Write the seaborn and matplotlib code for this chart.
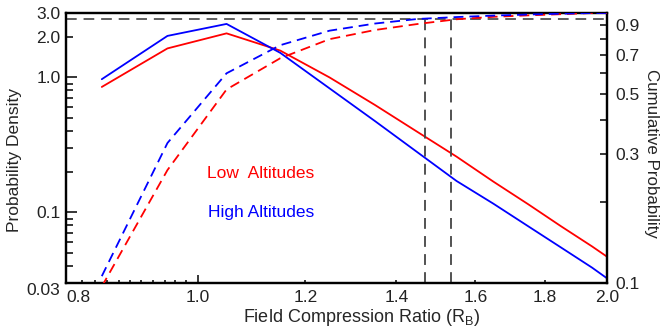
import matplotlib
matplotlib.use("Agg")
import matplotlib.pyplot as plt
import pandas as pd
import seaborn as sns
from matplotlib.ticker import FixedLocator, FixedFormatter, NullFormatter

# ---- data ----
ratio = [0.85, 0.95, 1.05, 1.15, 1.25, 1.35, 1.45, 1.55, 1.65, 1.75, 1.85, 1.95, 2.0]
low_pdf = [0.85, 1.64, 2.12, 1.58, 1.0, 0.625, 0.396, 0.259, 0.169, 0.115, 0.079, 0.056, 0.047]
high_pdf = [0.97, 2.03, 2.49, 1.52, 0.83, 0.475, 0.28, 0.171, 0.116, 0.079, 0.055, 0.039, 0.0325]
low_cdf = [0.097, 0.262, 0.521, 0.68, 0.80, 0.865, 0.91, 0.948, 0.968, 0.98, 0.99, 1.0, 1.0]
high_cdf = [0.106, 0.33, 0.598, 0.76, 0.86, 0.914, 0.95, 0.966, 0.978, 0.987, 0.994, 1.0, 1.0]

ref_cdf = 0.95
ref_ratio = [1.47, 1.535]

x_ticks = [0.8, 1.0, 1.2, 1.4, 1.6, 1.8, 2.0]
x_labels = ["0.8", "1.0", "1.2", "1.4", "1.6", "1.8", "2.0"]
x_minor = [0.822, 0.84, 0.857, 0.875, 0.891, 0.908, 0.927, 0.946, 0.962, 0.981]
left_ticks = [0.03, 0.1, 1.0, 2.0, 3.0]
left_labels = ["0.03", "0.1", "1.0", "2.0", "3.0"]
left_minor = [0.04, 0.05, 0.06, 0.07, 0.08, 0.09, 0.2, 0.3, 0.4, 0.5, 0.6, 0.7, 0.8, 0.9]
right_ticks = [0.1, 0.3, 0.5, 0.7, 0.9]
right_labels = ["0.1", "0.3", "0.5", "0.7", "0.9"]
right_minor = [0.2, 0.4, 0.6, 0.8]

df = pd.DataFrame({"ratio": ratio, "low_pdf": low_pdf, "high_pdf": high_pdf,
                   "low_cdf": low_cdf, "high_cdf": high_cdf})

sns.set_theme(style="ticks")
plt.rcParams["font.family"] = ["Liberation Sans", "DejaVu Sans"]
plt.rcParams["mathtext.fontset"] = "custom"
plt.rcParams["mathtext.rm"] = "Liberation Sans"
plt.rcParams["mathtext.it"] = "Liberation Sans"
plt.rcParams["text.color"] = "#222222"

FS = 12.5
fig = plt.figure(figsize=(6.62, 3.33), dpi=100)
ax = fig.add_axes([66 / 662, 1 - 283 / 333, (607 - 66) / 662, (283 - 13) / 333])
ax.set_xscale("log")
ax.set_yscale("log")
ax2 = ax.twinx()
ax2.set_yscale("log")

lw = 1.3
sns.lineplot(data=df, x="ratio", y="low_pdf", ax=ax, color="#ff0000", lw=lw)
sns.lineplot(data=df, x="ratio", y="high_pdf", ax=ax, color="#0000ff", lw=lw)

# reference dashed lines (cumulative axis)
ax2.axhline(ref_cdf, color="#333333", lw=1.1, linestyle=(0, (7, 4.5)), zorder=1)
ax2.vlines(ref_ratio, 0.1, 0.99, color="#444444", lw=1.3, linestyles=[(0, (6, 4))], zorder=1)

sns.lineplot(data=df, x="ratio", y="low_cdf", ax=ax2, color="#ff0000", lw=lw)
sns.lineplot(data=df, x="ratio", y="high_cdf", ax=ax2, color="#0000ff", lw=lw)
for ln in ax2.lines[-2:]:
    ln.set_linestyle((0, (5.5, 3.3)))
    ln.set_zorder(3)

ax.set_xlim(0.8, 2.0)
ax.set_ylim(0.03, 3.0)
ax2.set_ylim(0.1, 1.0)

# x ticks
ax.xaxis.set_major_locator(FixedLocator(x_ticks))
ax.xaxis.set_major_formatter(FixedFormatter(x_labels))
ax.xaxis.set_minor_locator(FixedLocator(x_minor))
ax.xaxis.set_minor_formatter(NullFormatter())
# left y ticks
ax.yaxis.set_major_locator(FixedLocator(left_ticks))
ax.yaxis.set_major_formatter(FixedFormatter(left_labels))
ax.yaxis.set_minor_locator(FixedLocator(left_minor))
ax.yaxis.set_minor_formatter(NullFormatter())
# right y ticks
ax2.yaxis.set_major_locator(FixedLocator(right_ticks))
ax2.yaxis.set_major_formatter(FixedFormatter(right_labels))
ax2.yaxis.set_minor_locator(FixedLocator(right_minor))
ax2.yaxis.set_minor_formatter(NullFormatter())

ax.tick_params(axis="x", which="both", direction="in", length=2.5, width=1.1,
               labelsize=FS, pad=5, top=False, colors="black", labelcolor="#222222")
ax.tick_params(axis="y", which="both", direction="in", length=5, width=1.1,
               labelsize=FS, pad=4, right=False, colors="black", labelcolor="#222222")
ax2.tick_params(axis="y", which="both", direction="in", length=5, width=1.1,
                labelsize=FS, pad=6, left=False, colors="black", labelcolor="#222222")

# individual tick lengths
for val, t in zip(x_ticks, ax.xaxis.get_major_ticks()):
    if val == 1.0:
        t.tick1line.set_markersize(5.5)
for val, t in zip(left_ticks, ax.yaxis.get_major_ticks()):
    if val in (0.1, 1.0):
        t.tick1line.set_markersize(8)
ax.get_xticklabels()[0].set_horizontalalignment("left")
ax.get_yticklabels()[0].set_verticalalignment("top")

for a in (ax, ax2):
    for s in a.spines.values():
        s.set_linewidth(1.6)
        s.set_color("black")

ax.set_xlabel("Field Compression Ratio (R$_{\\mathrm{B}}$)", fontsize=FS + 0.5)
ax.set_ylabel("Probability Density", fontsize=FS)
ax2.set_ylabel("Cumulative Probability", fontsize=FS - 0.3)
ax.xaxis.set_label_coords((362 - 66) / 541, (283 - 318) / 270)
ax.xaxis.label.set(ha="center", va="center")
ax.yaxis.set_label_coords((15 - 66) / 541, (283 - 160) / 270)
ax.yaxis.label.set(ha="center", va="center", rotation_mode="default")
ax2.yaxis.set_label_coords((652 - 66) / 541, (283 - 153) / 270)
ax2.yaxis.label.set(ha="center", va="center", rotation=270, rotation_mode="default")

ax.text((206.7 - 66) / 541, (283 - 174) / 270, "Low  Altitudes", color="#ff0000",
        fontsize=FS, transform=ax.transAxes, ha="left", va="center")
ax.text((208 - 66) / 541, (283 - 213) / 270, "High Altitudes", color="#0000ff",
        fontsize=FS, transform=ax.transAxes, ha="left", va="center")

fig.savefig("out.png", dpi=100)
